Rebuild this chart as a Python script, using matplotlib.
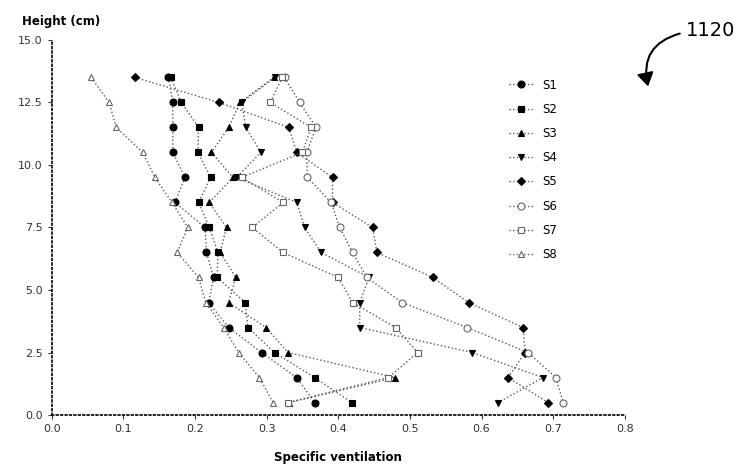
import matplotlib
matplotlib.use('Agg')
import matplotlib.pyplot as plt
import numpy as np

# heights (cm), top to bottom
height = [13.5, 12.5, 11.5, 10.5, 9.5, 8.5, 7.5, 6.5, 5.5, 4.5, 3.5, 2.5, 1.5, 0.5]

s1 = [0.163, 0.169, 0.169, 0.169, 0.186, 0.172, 0.214, 0.216, 0.226, 0.219, 0.247, 0.293, 0.342, 0.367]
s2 = [0.166, 0.181, 0.205, 0.204, 0.222, 0.205, 0.220, 0.232, 0.231, 0.270, 0.274, 0.311, 0.367, 0.419]
s3 = [0.310, 0.263, 0.247, 0.223, 0.253, 0.220, 0.244, 0.235, 0.257, 0.247, 0.299, 0.330, 0.479, 0.331]
s4 = [0.312, 0.265, 0.271, 0.292, 0.258, 0.342, 0.353, 0.376, 0.443, 0.430, 0.430, 0.587, 0.686, 0.623]
s5 = [0.116, 0.233, 0.331, 0.342, 0.392, 0.392, 0.448, 0.454, 0.532, 0.582, 0.658, 0.661, 0.637, 0.693]
s6 = [0.325, 0.346, 0.369, 0.356, 0.357, 0.390, 0.402, 0.420, 0.440, 0.489, 0.580, 0.665, 0.704, 0.714]
s7 = [0.322, 0.305, 0.362, 0.350, 0.265, 0.323, 0.280, 0.323, 0.400, 0.420, 0.480, 0.511, 0.470, 0.330]
s8 = [0.055, 0.080, 0.090, 0.127, 0.144, 0.168, 0.190, 0.175, 0.205, 0.215, 0.240, 0.261, 0.290, 0.309]

names = ['S1', 'S2', 'S3', 'S4', 'S5', 'S6', 'S7', 'S8']
series = [s1, s2, s3, s4, s5, s6, s7, s8]
markers = ['o', 's', '^', 'v', 'D', 'o', 's', '^']
filled = [True, True, True, True, True, False, False, False]

fig = plt.figure(figsize=(7.5, 4.69), dpi=100)
ax = fig.add_axes([0.069, 0.115, 0.764, 0.80])

handles = []
for name, xs, m, f in zip(names, series, markers, filled):
    h, = ax.plot(xs, height, linestyle=':', color='0.35', linewidth=1.0,
                 marker=m, markersize=5 if m != 'D' else 4.5,
                 markerfacecolor='black' if f else 'white',
                 markeredgecolor='black' if f else '0.4',
                 markeredgewidth=0.8, label=name)
    handles.append(h)

ax.set_xlim(0, 0.8)
ax.set_ylim(0, 15)
ax.set_xticks(np.arange(0, 0.81, 0.1))
ax.set_yticks(np.arange(0, 15.1, 2.5))
ax.xaxis.set_major_formatter(matplotlib.ticker.FormatStrFormatter('%.1f'))
ax.yaxis.set_major_formatter(matplotlib.ticker.FormatStrFormatter('%.1f'))
ax.tick_params(labelsize=8, length=3, width=0.8, colors='0.2')
for side in ['top', 'right']:
    ax.spines[side].set_visible(False)
for side in ['left', 'bottom']:
    ax.spines[side].set_linestyle(':')
    ax.spines[side].set_linewidth(1.2)

ax.set_xlabel('Specific ventilation', fontsize=8.5, fontweight='bold', labelpad=12)
fig.text(0.03, 0.955, 'Height (cm)', fontsize=8.5, fontweight='bold', ha='left', va='center')

fig.legend(handles=handles, loc='upper left', bbox_to_anchor=(0.665, 0.855),
           frameon=False, fontsize=8.5, handlelength=2.0, labelspacing=0.95,
           handletextpad=0.8)

fig.text(0.915, 0.935, '1120', fontsize=14, ha='left', va='center')
fig.patches.append(matplotlib.patches.FancyArrowPatch(
    (0.91, 0.93), (0.865, 0.81), transform=fig.transFigure,
    connectionstyle='arc3,rad=0.5', arrowstyle='-|>,head_length=8,head_width=5',
    color='black', linewidth=1.5))

plt.savefig('out.png', dpi=100)
